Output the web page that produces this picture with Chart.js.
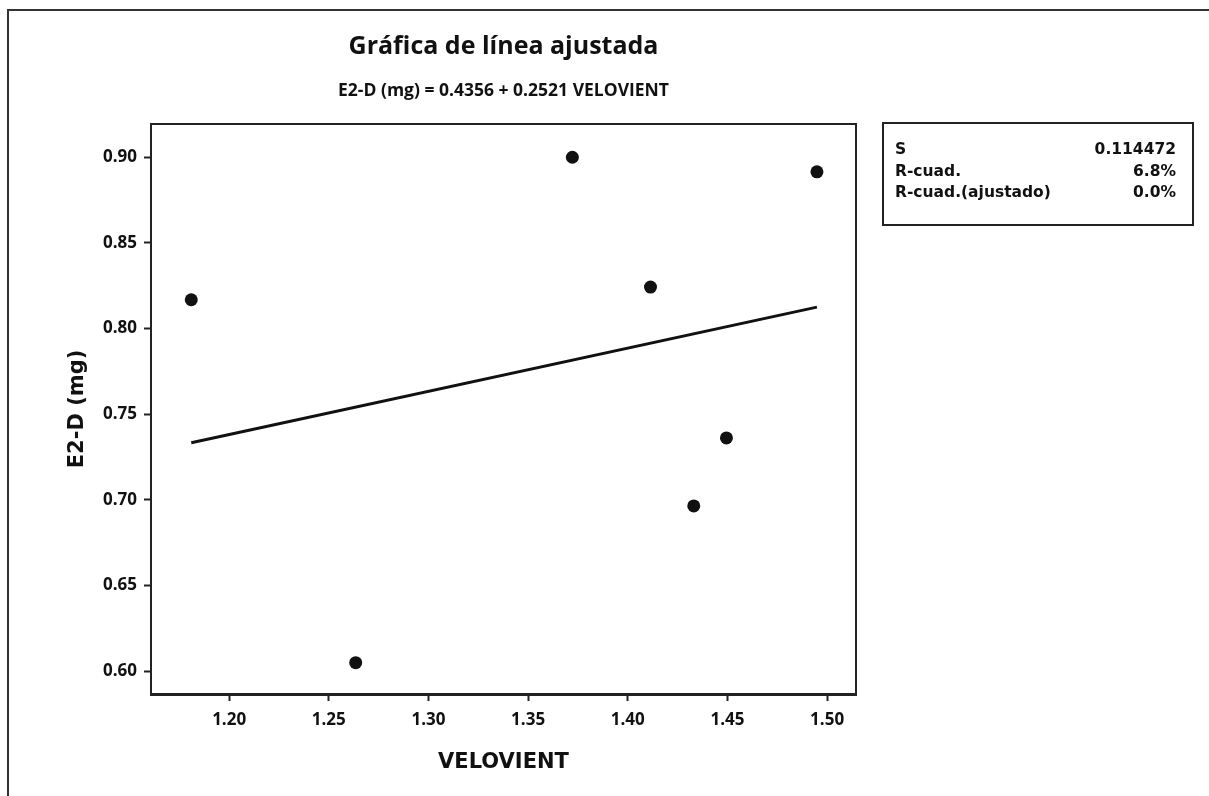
<!DOCTYPE html>
<html>
<head>
<meta charset="utf-8">
<script src="https://cdn.jsdelivr.net/npm/chart.js@4.4.1/dist/chart.umd.min.js"></script>
<style>
  html, body { margin: 0; padding: 0; background: #fff; }
  #myChart { display: block; }
</style>
</head>
<body>
<canvas id="myChart" width="1209" height="796"></canvas>
<script>
// datos
const velovient = [1.181, 1.2635, 1.3722, 1.4114, 1.4331, 1.4495, 1.4949];
const e2d = [0.8168, 0.6049, 0.900, 0.8242, 0.6964, 0.7361, 0.8915];
const coeficientes = [0.4356, 0.2521]; // intercepto, pendiente
const xTicks = [1.20, 1.25, 1.30, 1.35, 1.40, 1.45, 1.50];
const yTicks = [0.60, 0.65, 0.70, 0.75, 0.80, 0.85, 0.90];
const resumenEtiquetas = ["S", "R-cuad.", "R-cuad.(ajustado)"];
const resumenValores = ["0.114472", "6.8%", "0.0%"];

const titulo = "Gráfica de línea ajustada";
const subtitulo = "E2-D (mg) = 0.4356 + 0.2521 VELOVIENT";

const puntos = velovient.map((v, i) => ({ x: v, y: e2d[i] }));
const xMin = Math.min(...velovient);
const xMax = Math.max(...velovient);
const linea = [xMin, xMax].map(v => ({ x: v, y: coeficientes[0] + coeficientes[1] * v }));

const FUENTE = "'Open Sans', 'DejaVu Sans', sans-serif";
const ANCHA = "'DejaVu Sans', 'Open Sans', sans-serif";
const NEGRO = "#111";

const marco = {
    id: "marco",
    beforeDraw(chart) {
        const c = chart.ctx;
        c.save();
        c.fillStyle = "#fff";
        c.fillRect(0, 0, chart.width, chart.height);
        // borde exterior (recortado a la derecha y abajo)
        c.strokeStyle = "#333";
        c.lineWidth = 2;
        c.beginPath();
        c.moveTo(8, chart.height);
        c.lineTo(8, 10);
        c.lineTo(chart.width, 10);
        c.stroke();
        c.restore();
    },
    afterDraw(chart) {
        const c = chart.ctx;
        const a = chart.chartArea;
        c.save();
        c.strokeStyle = "#222";
        c.lineWidth = 2;
        c.beginPath();
        c.moveTo(a.left, a.top);
        c.lineTo(a.right, a.top);
        c.lineTo(a.right, a.bottom);
        c.stroke();

        const cx = (a.left + a.right) / 2;
        c.fillStyle = NEGRO;
        c.textAlign = "center";
        c.textBaseline = "middle";
        c.font = "bold 25px " + FUENTE;
        c.fillText(titulo, cx, 47);
        c.font = "bold 17.5px " + FUENTE;
        c.fillText(subtitulo, cx, 91);

        // cuadro de resumen
        c.lineWidth = 2;
        c.strokeStyle = "#222";
        c.strokeRect(883, 123, 310, 102);
        c.font = "bold 15.5px " + ANCHA;
        resumenEtiquetas.forEach((t, i) => {
            const y = 150 + i * 21.5;
            c.textAlign = "left";
            c.fillText(t, 895, y);
            c.textAlign = "right";
            c.fillText(resumenValores[i], 1176, y);
        });
        c.restore();
    }
};

const ctx = document.getElementById("myChart").getContext("2d");
const myChart = new Chart(ctx, {
    type: "scatter",
    data: {
        datasets: [
            {
                label: "E2-D (mg)",
                data: puntos,
                backgroundColor: NEGRO,
                borderColor: NEGRO,
                borderWidth: 0,
                pointRadius: 6.5,
            },
            {
                type: "line",
                label: "Ajuste",
                data: linea,
                borderColor: NEGRO,
                borderWidth: 3,
                pointRadius: 0,
                fill: false,
            },
        ],
    },
    options: {
        responsive: false,
        animation: false,
        layout: { padding: { top: 124, right: 353, left: 0, bottom: 0 } },
        plugins: {
            legend: { display: false },
            tooltip: { enabled: false },
        },
        scales: {
            x: {
                type: "linear",
                min: 1.1608,
                max: 1.5145,
                afterBuildTicks: s => { s.ticks = xTicks.map(v => ({ value: v })); },
                afterFit: s => { s.height = 102; },
                ticks: {
                    color: NEGRO,
                    padding: 9,
                    font: { family: FUENTE, size: 17, weight: "bold" },
                    callback: v => v.toFixed(2),
                },
                grid: { drawOnChartArea: false, drawTicks: true, tickLength: 7, tickWidth: 2, tickColor: "#222" },
                border: { display: true, color: "#222", width: 3 },
                title: {
                    display: true,
                    text: "VELOVIENT",
                    color: NEGRO,
                    font: { family: ANCHA, size: 21, weight: "bold" },
                    padding: { top: 0, bottom: 21 },
                },
            },
            y: {
                type: "linear",
                min: 0.5866,
                max: 0.9194,
                afterBuildTicks: s => { s.ticks = yTicks.map(v => ({ value: v })); },
                afterFit: s => { s.width = 151; },
                ticks: {
                    color: NEGRO,
                    padding: 7,
                    font: { family: FUENTE, size: 17, weight: "bold" },
                    callback: v => v.toFixed(2),
                },
                grid: { drawOnChartArea: false, drawTicks: true, tickLength: 7, tickWidth: 2, tickColor: "#222" },
                border: { display: true, color: "#222", width: 2 },
                title: {
                    display: true,
                    text: "E2-D (mg)",
                    color: NEGRO,
                    font: { family: ANCHA, size: 21, weight: "bold" },
                    padding: { top: 65, bottom: 0 },
                },
            },
        },
    },
    plugins: [marco],
});
</script>
</body>
</html>
